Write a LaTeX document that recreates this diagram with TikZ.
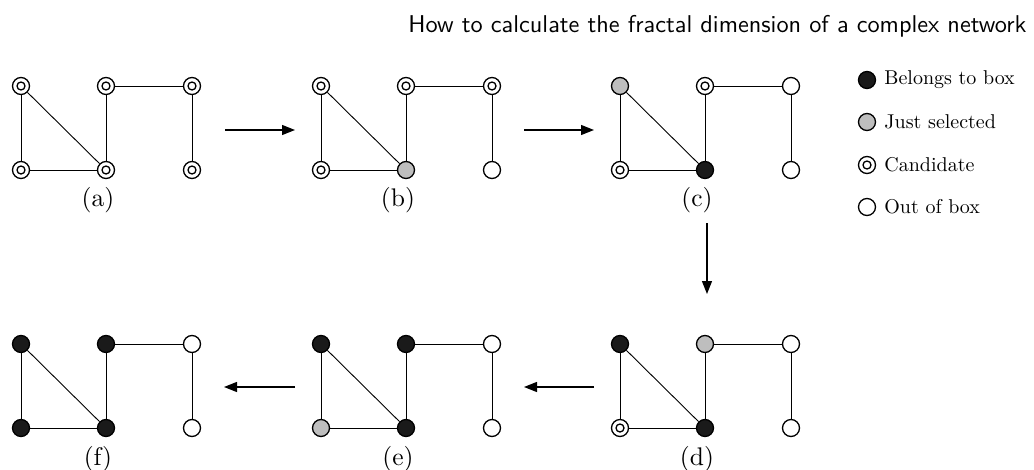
\documentclass[tikz,border=0pt]{standalone}
\usetikzlibrary{arrows.meta}
\definecolor{nodegray}{HTML}{BEBEBE}
\definecolor{nodeblack}{HTML}{1A1A1A}
\tikzset{
  vtx/.style={circle, draw=black, line width=1.3pt, minimum size=17pt, inner sep=0pt},
  blk/.style={vtx, fill=nodeblack},
  gry/.style={vtx, fill=nodegray},
  cnd/.style={vtx, fill=white, path picture={\draw[line width=1.3pt] (path picture bounding box.center) circle (4pt);}},
  outn/.style={vtx, fill=white},
  edge/.style={line width=0.9pt, black},
  flow/.style={line width=1.3pt, -{Triangle[length=13pt,width=10pt]}},
  lbl/.style={font=\fontsize{10}{12}\selectfont, scale=2.55, inner sep=0pt, anchor=base},
  leg/.style={font=\fontsize{10}{12}\selectfont, scale=2.0, inner sep=0pt, anchor=west}
}
% name, x, y, states TL TM TR BL BM BR
\newcommand\netgraph[9]{%
  \node[#4] (#1tl) at (#2,#3) {};
  \node[#5] (#1tm) at (#2+85,#3) {};
  \node[#6] (#1tr) at (#2+171,#3) {};
  \node[#7] (#1bl) at (#2,#3+84) {};
  \node[#8] (#1bm) at (#2+85,#3+84) {};
  \node[#9] (#1br) at (#2+171,#3+84) {};
  \begin{pgfonlayer}{background}
  \draw[edge] (#1tl) -- (#1bl);
  \draw[edge] (#1tl) -- (#1bm);
  \draw[edge] (#1bl) -- (#1bm);
  \draw[edge] (#1tm) -- (#1bm);
  \draw[edge] (#1tm) -- (#1tr);
  \draw[edge] (#1tr) -- (#1br);
  \end{pgfonlayer}
}
\pgfdeclarelayer{background}
\pgfsetlayers{background,main}
\begin{document}
\begin{tikzpicture}[x=1pt,y=-1pt]
\useasboundingbox (0,0) rectangle (1034,469);
\node[anchor=base east, inner sep=0pt, font=\sffamily\fontsize{10}{12}\selectfont, scale=2.43] (title) at (1027,32) {How to calculate the fractal dimension of a complex network};

\netgraph{a}{21}{86}{cnd}{cnd}{cnd}{cnd}{cnd}{cnd}
\netgraph{b}{321}{86}{cnd}{cnd}{cnd}{cnd}{gry}{outn}
\netgraph{c}{620}{86}{gry}{cnd}{outn}{cnd}{blk}{outn}
\netgraph{d}{620}{344}{blk}{gry}{outn}{cnd}{blk}{outn}
\netgraph{e}{321}{344}{blk}{blk}{outn}{gry}{blk}{outn}
\netgraph{f}{21}{344}{blk}{blk}{outn}{blk}{blk}{outn}

\node[lbl] (la) at (98,206) {(a)};
\node[lbl] (lb) at (398,206) {(b)};
\node[lbl] (lc) at (697,206) {(c)};
\node[lbl] (ld) at (697,465) {(d)};
\node[lbl] (le) at (398,465) {(e)};
\node[lbl] (lf) at (98,465) {(f)};

\coordinate (a1) at (225,130); \coordinate (a2) at (295,130);
\coordinate (b1) at (524,130); \coordinate (b2) at (594,130);
\coordinate (c1) at (707,223); \coordinate (c2) at (707,294);
\coordinate (d1) at (594,387); \coordinate (d2) at (524,387);
\coordinate (e1) at (295,387); \coordinate (e2) at (224,387);
\draw[flow] (a1) -- (a2);
\draw[flow] (b1) -- (b2);
\draw[flow] (c1) -- (c2);
\draw[flow] (d1) -- (d2);
\draw[flow] (e1) -- (e2);

\node[blk] (k1) at (867,80) {};
\node[gry] (k2) at (867,122) {};
\node[cnd] (k3) at (867,165) {};
\node[outn] (k4) at (867,207) {};
\node[leg] (t1) at (884,80) {Belongs to box};
\node[leg] (t2) at (884,122) {Just selected};
\node[leg] (t3) at (884,165) {Candidate};
\node[leg] (t4) at (884,207) {Out of box};
\end{tikzpicture}
\end{document}
